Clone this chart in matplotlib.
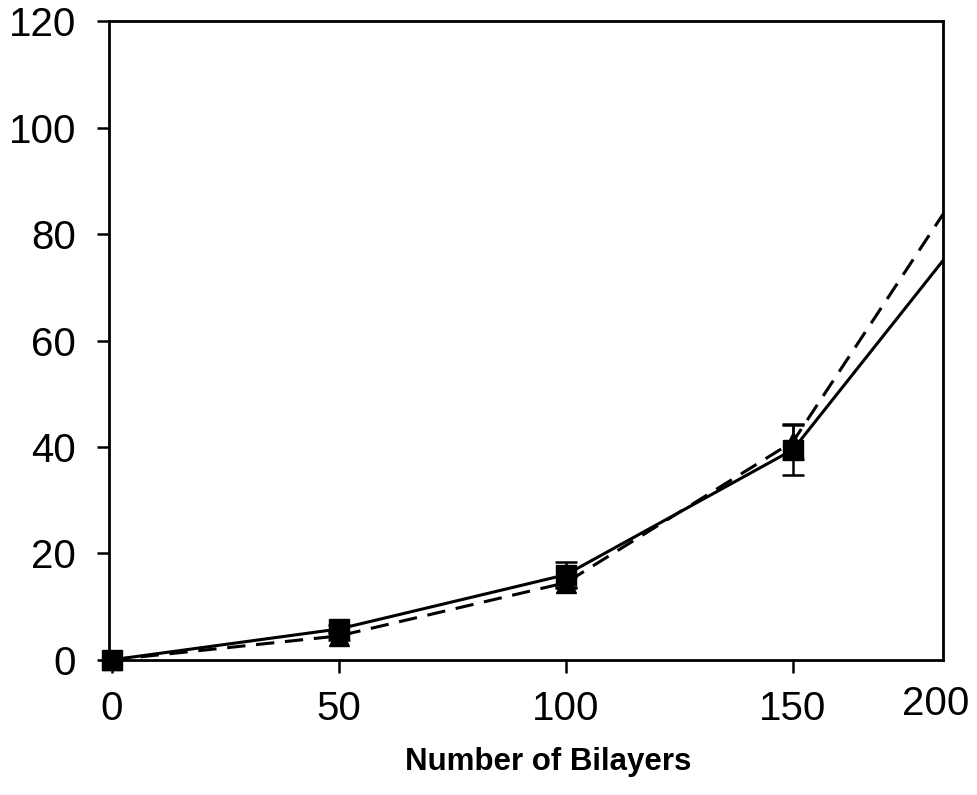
import matplotlib
matplotlib.use("Agg")
import matplotlib.pyplot as plt

# data
bilayers = [0, 50, 100, 150, 200]
solid_vals = [0, 5.8, 16.0, 39.5, 93.3]
solid_err = [0, 0.8, 2.3, 4.8, 0]
dashed_vals = [0, 4.5, 14.5, 41.0, 105.7]
dashed_err = [0, 0.8, 1.0, 3.2, 0]

y_ticks = [0, 20, 40, 60, 80, 100, 120]
x_ticks = [0, 50, 100, 150]

plt.rcParams["font.family"] = ["Liberation Sans", "DejaVu Sans"]

fig = plt.figure(figsize=(9.77, 7.95), dpi=100)
ax = fig.add_axes([0.112, 0.170, 0.853, 0.803])

# lines (clipped at the frame)
ax.plot(bilayers, dashed_vals, color="black", lw=2.2, ls=(0, (6, 3.5)))
ax.plot(bilayers, solid_vals, color="black", lw=2.2, ls="-")

# markers and error bars (points inside the frame, not clipped)
n = 4
ax.errorbar(bilayers[:n], dashed_vals[:n], yerr=dashed_err[:n], color="black",
            ls="none", marker="^", ms=14, capsize=8, elinewidth=1.8,
            capthick=1.8, clip_on=False, zorder=3)
ax.errorbar(bilayers[:n], solid_vals[:n], yerr=solid_err[:n], color="black",
            ls="none", marker="s", ms=14, capsize=8, elinewidth=1.8,
            capthick=1.8, clip_on=False, zorder=4)

ax.set_xlim(-0.5, 183)
ax.set_ylim(0, 120)
ax.set_yticks(y_ticks)
ax.set_xticks(x_ticks)
ax.set_xticklabels([str(v) for v in x_ticks])
ax.tick_params(axis="both", direction="out", length=9, width=1.8,
               labelsize=29)
ax.tick_params(axis="y", pad=15)
ax.tick_params(axis="x", pad=13)
# last x label sits at the right edge of the frame
ax.text(0.992, -0.040, "200", transform=ax.transAxes, ha="center", va="top",
        fontsize=29)

for sp in ax.spines.values():
    sp.set_linewidth(2.0)

ax.set_xlabel("Number of Bilayers", fontsize=22.5, fontweight="bold")
ax.xaxis.set_label_coords(0.527, -0.136)

fig.savefig("out.png", dpi=100)
